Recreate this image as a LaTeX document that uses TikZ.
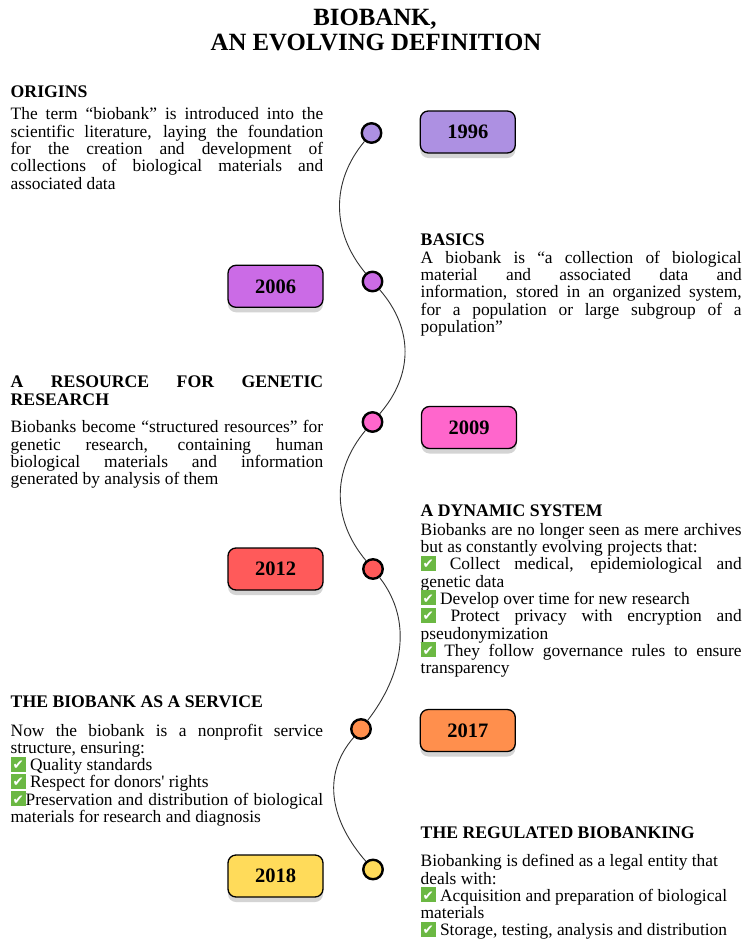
\documentclass[tikz,border=0pt]{standalone}
\usepackage{fontspec}
\setmainfont{Liberation Serif}
\newfontfamily\dejavu{DejaVu Sans}
\usetikzlibrary{shadows}
\definecolor{cA}{HTML}{AD90E2}
\definecolor{cB}{HTML}{CB6BE6}
\definecolor{cC}{HTML}{FF66CC}
\definecolor{cD}{HTML}{FF5A5A}
\definecolor{cE}{HTML}{FF8F4D}
\definecolor{cF}{HTML}{FFDB5A}
\definecolor{chkgreen}{HTML}{6BB843}
\definecolor{wave}{HTML}{333333}
\newcommand\bodyfont{\fontsize{17.4}{17.3}\selectfont\lineskiplimit=-20pt\relax}
\newcommand\headfont{\fontsize{17.7}{18.4}\selectfont\bfseries\lineskiplimit=-20pt\relax}
\newcommand\yearfont{\fontsize{20.5}{20.5}\selectfont\bfseries}
\newcommand\chk{{\setlength\fboxsep{0pt}\raisebox{-1pt}{\colorbox{chkgreen}{\makebox[15pt]{\rule{0pt}{15pt}\raisebox{2pt}{\color{white}\dejavu\fontsize{13.5}{13.5}\selectfont ✔}}}}}}
\newcommand\para[2]{\parbox[t]{#1}{\hbadness=10000\relax #2}}
\hbadness=10000
\tikzset{
  circ/.style={circle, draw=black, line width=2.4pt, minimum size=19.5pt, inner sep=0pt},
  yearbox/.style={rounded corners=8pt, draw=black, line width=1.3pt, minimum width=95pt,
    minimum height=42pt, inner sep=0pt, font=\yearfont,
    drop shadow={shadow xshift=0pt, shadow yshift=-5pt, fill=black!17, opacity=1}},
  txt/.style={anchor=base west, inner sep=0pt},
  wavy/.style={draw=wave, line width=0.9pt}
}
\begin{document}
\begin{tikzpicture}[x=1pt,y=-1pt]
\useasboundingbox[fill=white] (0,0) rectangle (749,947);
% title
\node[anchor=base, inner sep=0pt, font=\fontsize{24.8}{24.8}\selectfont\bfseries] (title1) at (375,26) {BIOBANK,};
\node[anchor=base, inner sep=0pt, font=\fontsize{24.8}{24.8}\selectfont\bfseries] (title2) at (376,50.7) {AN EVOLVING DEFINITION};
% timeline circles
\coordinate (p1) at (371.5,133);
\coordinate (p2) at (372.5,281.5);
\coordinate (p3) at (372.5,422);
\coordinate (p4) at (373,569);
\coordinate (p5) at (361,729);
\coordinate (p6) at (373,869.5);
\node[circ, fill=cA] (c1) at (p1) {};
\node[circ, fill=cB] (c2) at (p2) {};
\node[circ, fill=cC] (c3) at (p3) {};
\node[circ, fill=cD] (c4) at (p4) {};
\node[circ, fill=cE] (c5) at (p5) {};
\node[circ, fill=cF] (c6) at (p6) {};
\draw[wavy] (c1) .. controls +(-41,49) and +(-41,-49) .. (c2);
\draw[wavy] (c2) .. controls +(41,47) and +(41,-47) .. (c3);
\draw[wavy] (c3) .. controls +(-41,49) and +(-41,-49) .. (c4);
\draw[wavy] (c4) .. controls +(41,53) and +(41,-53) .. (c5);
\draw[wavy] (c5) .. controls +(-41,47) and +(-41,-47) .. (c6);
% year boxes
\node[yearbox, fill=cA] (b1) at (467.8,132) {1996};
\node[yearbox, fill=cB] (b2) at (275.5,286.3) {2006};
\node[yearbox, fill=cC] (b3) at (469,427.5) {2009};
\node[yearbox, fill=cD] (b4) at (275.5,569) {2012};
\node[yearbox, fill=cE] (b5) at (467.8,730.5) {2017};
\node[yearbox, fill=cF] (b6) at (275.5,876) {2018};
% ORIGINS
\node[txt] (h1) at (10.5,97.5) {\headfont ORIGINS};
\node[txt] (t1) at (10.5,120) {\para{312.5pt}{\bodyfont The term “biobank” is introduced into the\linebreak scientific literature, laying the foundation\linebreak for the creation and development of\linebreak collections of biological materials and\linebreak associated data}};
% BASICS
\node[txt] (h2) at (420.5,245.7) {\headfont BASICS};
\node[txt] (t2) at (420.5,263.3) {\para{321pt}{\bodyfont A biobank is “a collection of biological\linebreak material and associated data and\linebreak information, stored in an organized system,\linebreak for a population or large subgroup of a\linebreak population”}};
% RESOURCE
\node[txt] (h3) at (10.5,387.3) {\para{312.5pt}{\headfont A RESOURCE FOR GENETIC\linebreak RESEARCH}};
\node[txt] (t3) at (10.5,432.7) {\para{312.5pt}{\bodyfont Biobanks become “structured resources” for\linebreak genetic research, containing human\linebreak biological materials and information\linebreak generated by analysis of them}};
% DYNAMIC
\node[txt] (h4) at (420.5,516) {\headfont A DYNAMIC SYSTEM};
\node[txt] (t4) at (420.5,535.2) {\para{321pt}{\bodyfont Biobanks are no longer seen as mere archives\linebreak but as constantly evolving projects that:\newline \chk\ Collect medical, epidemiological and\linebreak genetic data\newline \chk\ Develop over time for new research\newline \chk\ Protect privacy with encryption and\linebreak pseudonymization\newline \chk\ They follow governance rules to ensure\linebreak transparency}};
% SERVICE
\node[txt] (h5) at (10.5,707.3) {\headfont THE BIOBANK AS A SERVICE};
\node[txt] (t5) at (10.5,736) {\para{312.5pt}{\bodyfont Now the biobank is a nonprofit service\linebreak structure, ensuring:\newline \chk\ Quality standards\newline \chk\ Respect for donors\textquotesingle\ rights\newline \chk Preservation and distribution of biological\linebreak materials for research and diagnosis}};
% REGULATED
\node[txt] (h6) at (420.5,838.3) {\headfont THE REGULATED BIOBANKING};
\node[txt] (t6) at (420.5,866.7) {\para{321pt}{\bodyfont Biobanking is defined as a legal entity that\newline deals with:\newline \chk\ Acquisition and preparation of biological\newline materials\newline \chk\ Storage, testing, analysis and distribution}};
\end{tikzpicture}
\end{document}
